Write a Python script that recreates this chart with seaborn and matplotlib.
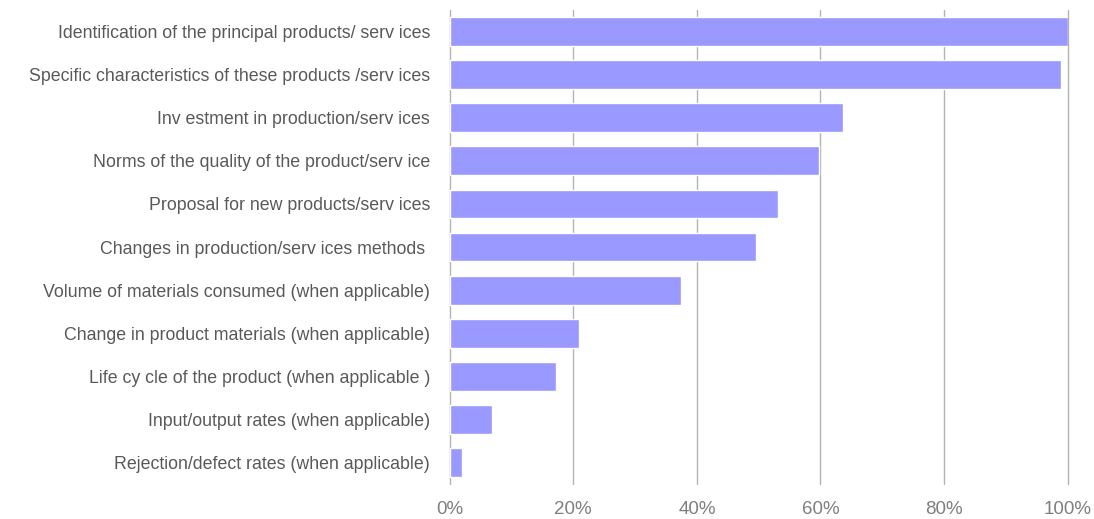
import matplotlib
matplotlib.use("Agg")
import matplotlib.pyplot as plt
from matplotlib.ticker import FuncFormatter
import seaborn as sns

# Share of respondents citing each item (%)
categories = [
    "Identification of the principal products/ serv ices",
    "Specific characteristics of these products /serv ices",
    "Inv estment in production/serv ices",
    "Norms of the quality of the product/serv ice",
    "Proposal for new products/serv ices",
    "Changes in production/serv ices methods ",
    "Volume of materials consumed (when applicable)",
    "Change in product materials (when applicable)",
    "Life cy cle of the product (when applicable )",
    "Input/output rates (when applicable)",
    "Rejection/defect rates (when applicable)",
]
shares = [100.0, 98.9, 63.6, 59.7, 53.2, 49.5, 37.4, 20.9, 17.2, 6.8, 2.0]
x_ticks = [0, 20, 40, 60, 80, 100]

sns.set_theme(style="white")
plt.rcParams["font.family"] = ["Liberation Sans", "DejaVu Sans"]

fig = plt.figure(figsize=(10.94, 5.19), dpi=100)
ax = fig.add_axes([0.411, 0.067, 0.976 - 0.411, 0.981 - 0.067])

sns.barplot(x=shares, y=categories, orient="h", color="#9999FF",
            saturation=1, width=0.667, ax=ax, zorder=3)

ax.set_xlim(0, 100)
ax.set_xticks(x_ticks)
ax.xaxis.set_major_formatter(FuncFormatter(lambda v, _: f"{v:.0f}%"))
ax.grid(axis="x", color="#b3b3b3", linewidth=1.0, zorder=0)
ax.grid(axis="y", visible=False)
for line in ax.get_xgridlines():
    line.set_clip_on(False)
for s in ax.spines.values():
    s.set_visible(False)
ax.set_xlabel("")
ax.set_ylabel("")
ax.tick_params(axis="y", length=0, pad=14, labelsize=12.8, labelcolor="#595959")
ax.tick_params(axis="x", length=0, pad=12, labelsize=13.5, labelcolor="#7f7f7f")

fig.savefig("out.png", dpi=100)
